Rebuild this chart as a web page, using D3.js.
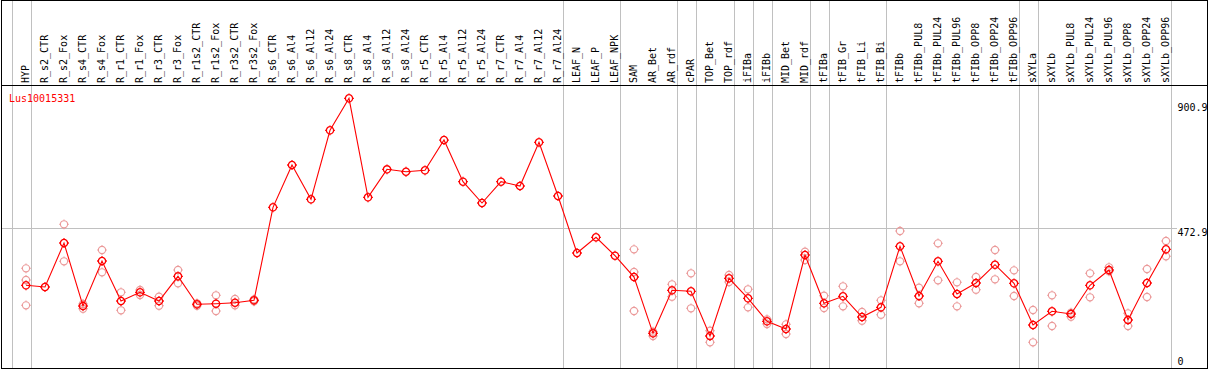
<!DOCTYPE html>
<html>
<head>
<meta charset="utf-8">
<script src="https://cdn.jsdelivr.net/npm/d3@7"></script>
<style>
  html, body { margin: 0; padding: 0; background: #fff; }
  svg { display: block; }
  text { font-family: "DejaVu Sans Mono", monospace; font-size: 10px; }
</style>
</head>
<body>
<svg id="chart" width="1209" height="370"></svg>
<script>
const geneName = "Lus10015331";
const categories = ["HYP","R_s2_CTR","R_s2_Fox","R_s4_CTR","R_s4_Fox","R_r1_CTR","R_r1_Fox","R_r3_CTR","R_r3_Fox","R_r1s2_CTR","R_r1s2_Fox","R_r3s2_CTR","R_r3s2_Fox","R_s6_CTR","R_s6_Al4","R_s6_Al12","R_s6_Al24","R_s8_CTR","R_s8_Al4","R_s8_Al12","R_s8_Al24","R_r5_CTR","R_r5_Al4","R_r5_Al12","R_r5_Al24","R_r7_CTR","R_r7_Al4","R_r7_Al12","R_r7_Al24","LEAF_N","LEAF_P","LEAF_NPK","SAM","AR_Bet","AR_rdf","cPAR","TOP_Bet","TOP_rdf","iFIBa","iFIBb","MID_Bet","MID_rdf","tFIBa","tFIB_Gr","tFIB_Li","tFIB_Bi","tFIBb","tFIBb_PUL8","tFIBb_PUL24","tFIBb_PUL96","tFIBb_OPP8","tFIBb_OPP24","tFIBb_OPP96","sXYLa","sXYLb","sXYLb_PUL8","sXYLb_PUL24","sXYLb_PUL96","sXYLb_OPP8","sXYLb_OPP24","sXYLb_OPP96"];
const meanValues = [278.1,272.3,422.6,207.4,361.1,224.4,254.2,224.4,308.8,213.2,215.2,218.6,226.8,544.5,689.0,571.9,807.6,916.9,578.7,674.3,666.1,670.9,774.4,632.0,559.2,632.0,617.3,766.6,583.1,388.4,442.0,379.2,306.4,114.1,261.0,257.6,104.9,302.0,233.7,155.1,128.8,381.6,216.6,240.5,169.8,202.9,411.3,241.5,360.1,248.4,285.9,348.4,284.9,142.5,189.3,180.0,278.1,330.3,159.5,285.9,401.0];
const replicateValues = [
  [336.1,296.2,209.7],[],[486.5,360.1],[214.2,198.1],[398.7,322.5],[254.2,192.7],[262.0,244.9],[239.1,208.4],[330.3,284.9],[216.6,208.4],
  [243.9,190.3],[231.3,209.7],[230.2,223.4],[],[],[],[],[],[],[],
  [],[],[],[],[],[],[],[],[],[],
  [],[],[401.0,323.5,190.3],[119.6,104.9],[281.5,239.1],[319.1,199.5],[123.0,83.4],[313.3,289.3],[264.4,202.9],[161.9,145.9],
  [144.8,111.7],[392.9,364.5],[242.5,200.5],[274.7,206.3],[186.9,157.1],[226.8,177.6],[463.6,360.1],[269.9,216.6],[421.5,295.2],[288.3,206.3],
  [306.4,263.0],[398.7,298.6],[329.3,241.5],[193.7,83.4],[243.9,139.0],[184.5,170.8],[319.1,237.1],[339.6,325.9],[182.4,139.0],[333.8,238.1],
  [429.4,377.1]
];
const groupEnds = ["HYP","R_r7_Al24","LEAF_NPK","AR_rdf","cPAR","TOP_rdf","iFIBa","iFIBb","MID_rdf","tFIBa","tFIB_Bi","tFIBb_OPP96","sXYLa","sXYLb_OPP96"];
const tickValues = [900.9, 472.9, 0];
const refLineValue = 472.9;

const svg = d3.select("#chart");
const frame = {left: 1.5, top: 0.5, right: 1207.5, bottom: 368.5, header: 85.5};

const x = d3.scalePoint().domain(categories).range([26, 1166]);
const y = d3.scaleLinear().domain([0, 900.9]).range([366.7, 103]);
const step = x.step();

// gray separators
const sepX = [x(categories[0]) - step + 4.5].concat(groupEnds.map(c => x(c) + 4.5));
svg.append("g").selectAll("line").data(sepX).join("line")
  .attr("x1", d => Math.round(d) + 0.5).attr("x2", d => Math.round(d) + 0.5)
  .attr("y1", frame.top).attr("y2", frame.bottom)
  .attr("stroke", "#c0c0c0").attr("stroke-width", 1);

// reference horizontal line
svg.append("line")
  .attr("x1", frame.left).attr("x2", 1177)
  .attr("y1", Math.round(y(refLineValue)) + 0.5).attr("y2", Math.round(y(refLineValue)) + 0.5)
  .attr("stroke", "#c0c0c0").attr("stroke-width", 1);

// frame
svg.append("rect")
  .attr("x", frame.left).attr("y", frame.top)
  .attr("width", frame.right - frame.left).attr("height", frame.bottom - frame.top)
  .attr("fill", "none").attr("stroke", "#000").attr("stroke-width", 1);
svg.append("line")
  .attr("x1", frame.left).attr("x2", frame.right)
  .attr("y1", frame.header).attr("y2", frame.header)
  .attr("stroke", "#000").attr("stroke-width", 1);

// category labels
svg.append("g").selectAll("text").data(categories).join("text")
  .attr("transform", d => `translate(${x(d) + 3.2},83) rotate(-90)`)
  .attr("text-anchor", "start")
  .attr("fill", "#000")
  .text(d => d);

// gene name
svg.append("text").attr("x", 9).attr("y", 101.5).attr("fill", "#ff0000").text(geneName);

// tick labels
svg.append("g").selectAll("text").data(tickValues).join("text")
  .attr("x", 1177.5)
  .attr("y", d => d === 0 ? y(d) - 1.5 : y(d) + 7.8)
  .attr("fill", "#000")
  .text(d => d === 0 ? "0" : d3.format(".1f")(d));

// marker path: circle with 4 small ticks
function marker(r) {
  const p = d3.path();
  p.moveTo(r, 0); p.arc(0, 0, r, 0, 2 * Math.PI);
  p.moveTo(0, -r); p.lineTo(0, -r - 1.3);
  p.moveTo(0, r); p.lineTo(0, r + 1.3);
  p.moveTo(-r, 0); p.lineTo(-r - 1.3, 0);
  p.moveTo(r, 0); p.lineTo(r + 1.3, 0);
  return p.toString();
}

// replicate points
const reps = [];
replicateValues.forEach((arr, i) => arr.forEach(v => reps.push({c: categories[i], v})));
svg.append("g").selectAll("path").data(reps).join("path")
  .attr("transform", d => `translate(${x(d.c)},${y(d.v)})`)
  .attr("d", marker(3.6))
  .attr("fill", "none").attr("stroke", "#eb9a9a").attr("stroke-width", 1.1);

// mean line
const meanData = categories.map((c, i) => ({c, v: meanValues[i]}));
svg.append("path").datum(meanData)
  .attr("d", d3.line().x(d => x(d.c)).y(d => y(d.v)))
  .attr("fill", "none").attr("stroke", "#ff0000").attr("stroke-width", 1.1);

svg.append("g").selectAll("path").data(meanData).join("path")
  .attr("transform", d => `translate(${x(d.c)},${y(d.v)})`)
  .attr("d", marker(3.6))
  .attr("fill", "none").attr("stroke", "#ff0000").attr("stroke-width", 1.3);
</script>
</body>
</html>
